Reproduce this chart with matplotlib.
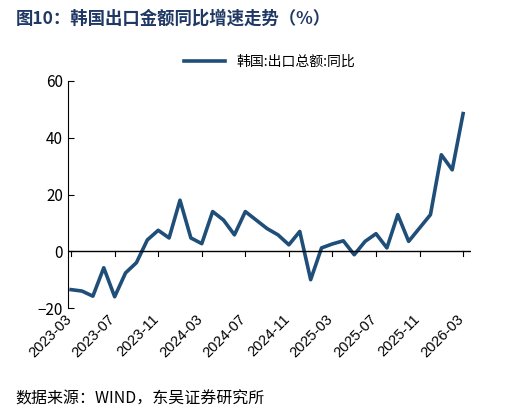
import matplotlib
matplotlib.use("Agg")
import matplotlib.pyplot as plt
import pandas as pd

plt.rcParams['font.family'] = ['Noto Sans CJK SC', 'DejaVu Sans']

months = pd.period_range('2023-03', '2026-03', freq='M').strftime('%Y-%m').tolist()
values = [-13.5, -14, -15.8, -5.8, -16, -7.6, -4, 4, 7.4, 4.7, 18, 4.7, 2.7, 14, 11, 5.8,
          14, 11, 8, 5.8, 2.3, 7, -10, 1.2, 2.6, 3.7, -1.2, 3.5, 6.2, 1.2, 12.9, 3.5,
          8.2, 12.9, 34, 28.7, 48.5]
tick_labels = months[::4]

fig = plt.figure(figsize=(5.10, 4.13), dpi=100)
ax = fig.add_axes([0.133, 0.254, 0.79, 0.55])
x = list(range(len(values)))
ax.plot(x, values, color='#1F4E79', lw=2.6, label='韩国:出口总额:同比')
ax.set_ylim(-20, 60)
ax.set_xlim(-0.3, len(values) - 0.3)
ax.set_yticks([-20, 0, 20, 40, 60])
ax.tick_params(axis='y', labelsize=11, direction='in', length=4)
for s in ['top', 'right', 'bottom']:
    ax.spines[s].set_visible(False)
ax.axhline(0, color='black', lw=1)
ax.set_xticks(x[::4])
ax.set_xticklabels([])
ax.tick_params(axis='x', length=0)
for xi in x[::4]:
    ax.plot([xi, xi], [0, -1.5], color='black', lw=0.8, clip_on=False)
for xi, lab in zip(x[::4], tick_labels):
    ax.text(xi + 0.3, -21.5, lab, rotation=45, ha='right', va='top', fontsize=10.5,
            family=['Arial', 'Liberation Sans'])
ax.legend(loc='upper center', bbox_to_anchor=(0.5, 1.17), frameon=False, fontsize=10,
          handlelength=3)
fig.text(0.03, 0.955, '图10：韩国出口金额同比增速走势（%）', fontsize=12.5, fontweight='bold',
         color='#1F3864', va='center')
fig.text(0.03, 0.035, '数据来源：WIND，东吴证券研究所', fontsize=11.5, va='center')
fig.savefig('out.png', dpi=100)
